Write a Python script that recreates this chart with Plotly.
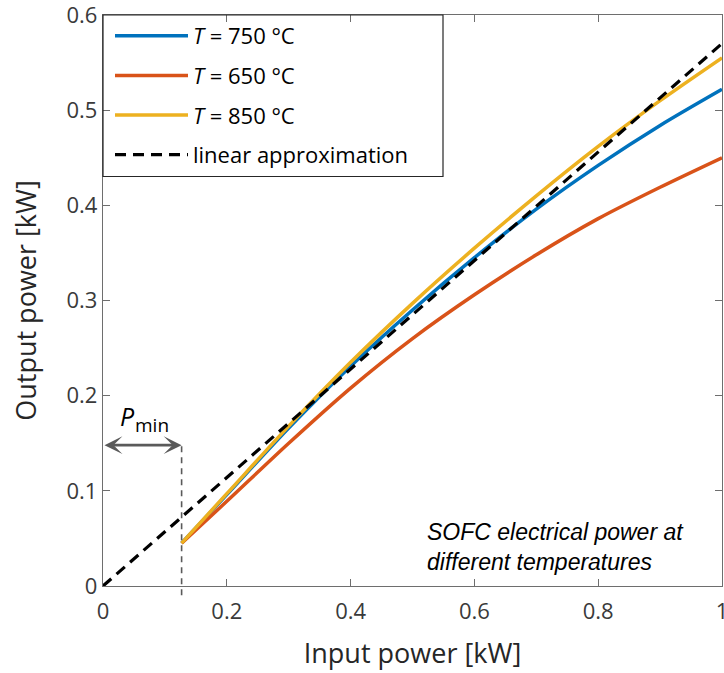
import plotly.graph_objects as go

# ---- data ----
x_in = [0.127, 0.2, 0.3, 0.4, 0.5, 0.6, 0.7, 0.8, 0.9, 1.0]
p_750 = [0.045, 0.096, 0.166, 0.231, 0.290, 0.345, 0.396, 0.442, 0.484, 0.522]
p_650 = [0.045, 0.089, 0.150, 0.208, 0.260, 0.306, 0.348, 0.386, 0.419, 0.450]
p_850 = [0.045, 0.097, 0.168, 0.235, 0.297, 0.355, 0.410, 0.462, 0.510, 0.555]
lin_x = [0.0, 1.0]
lin_y = [0.0, 0.57]
p_min = 0.127
arrow_y = 0.148

x_ticks = [0, 0.2, 0.4, 0.6, 0.8, 1]
y_ticks = [0, 0.1, 0.2, 0.3, 0.4, 0.5, 0.6]

names = ["<i>T</i> = 750 °C", "<i>T</i> = 650 °C", "<i>T</i> = 850 °C", "linear approximation"]
colors = ["#0072BD", "#D95319", "#EDB120", "#000000"]

fig = go.Figure()
for i, (yy, nm, c) in enumerate(zip([p_750, p_650, p_850], names[:3], colors[:3])):
    fig.add_trace(go.Scatter(x=x_in, y=yy, mode="lines", name=nm, legendgroup=f"g{i}",
                             line=dict(color=c, width=3.5, shape="spline", smoothing=0.8)))
fig.add_trace(go.Scatter(x=lin_x, y=lin_y, mode="lines", name=names[3], legendgroup="g3",
                         line=dict(color="#000000", width=3.2, dash="11px,7px")))

axcol = "#6e6e6e"
common = dict(showline=True, linecolor=axcol, linewidth=1.4, mirror="ticks",
              ticks="inside", ticklen=7, tickcolor=axcol, tickwidth=1.2,
              showgrid=False, zeroline=False, ticklabeloverflow="allow", automargin=False,
              tickfont=dict(family="Open Sans", size=22, color="#3a3a3a"))

fig.update_xaxes(range=[0, 1], tickvals=x_ticks, ticktext=[str(v) for v in x_ticks],
                 ticklabelstandoff=5,
                 title=dict(text="Input power [kW]", font=dict(family="Open Sans", size=27, color="#262626"), standoff=20),
                 **common)
fig.update_yaxes(range=[0, 0.6], tickvals=y_ticks, ticktext=[str(v) for v in y_ticks],
                 title=dict(text="Output power [kW]", font=dict(family="Open Sans", size=27, color="#262626"), standoff=22),
                 **common)

# Pmin double arrow
fig.add_annotation(x=p_min, y=arrow_y, ax=0, ay=arrow_y, xref="x", yref="y", axref="x", ayref="y",
                   text="", showarrow=True, arrowhead=3, startarrowhead=3, arrowside="end+start",
                   arrowsize=1.15, startarrowsize=1.15, arrowwidth=2.6, arrowcolor="#5a5a5a", standoff=0, startstandoff=0)
fig.add_shape(type="line", xref="x", yref="paper", x0=p_min, x1=p_min, y0=-0.016, y1=arrow_y / 0.6,
              line=dict(color="#5a5a5a", width=1.6, dash="6px,5px"))
fig.add_annotation(x=0.039, y=0.1786, xref="paper", yref="y", xanchor="center", yanchor="middle",
                   text="<i>P</i>", showarrow=False,
                   font=dict(family="Open Sans", size=25, color="#000000"))
fig.add_annotation(x=0.0795, y=0.169, xref="paper", yref="y", xanchor="center", yanchor="middle",
                   text="min", showarrow=False,
                   font=dict(family="Open Sans", size=19, color="#000000"))

fig.add_annotation(x=0.520, y=0.0405, xref="paper", yref="y", xanchor="left", yanchor="middle", align="left",
                   text="<i>SOFC electrical power at<br>different temperatures</i>", showarrow=False,
                   font=dict(family="Liberation Sans", size=23, color="#000000"))

# legend frame
fig.add_shape(type="rect", xref="paper", yref="paper", x0=0, x1=(443 - 103) / 619, y0=(586 - 176.5) / 571, y1=1,
              line=dict(color="#262626", width=1.2), fillcolor="rgba(0,0,0,0)", layer="above")

fig.update_layout(
    width=724, height=673,
    margin=dict(l=103, r=2, t=15, b=87, autoexpand=False),
    paper_bgcolor="white", plot_bgcolor="white",
    showlegend=True,
    legend=dict(x=7 / 619, y=1, xanchor="left", yanchor="top", bgcolor="rgba(0,0,0,0)",
                borderwidth=0, itemwidth=73,
                font=dict(family="Open Sans", size=22, color="#000000"),
                tracegroupgap=8, traceorder="grouped", itemclick=False),
)

fig.write_html("out.html")
